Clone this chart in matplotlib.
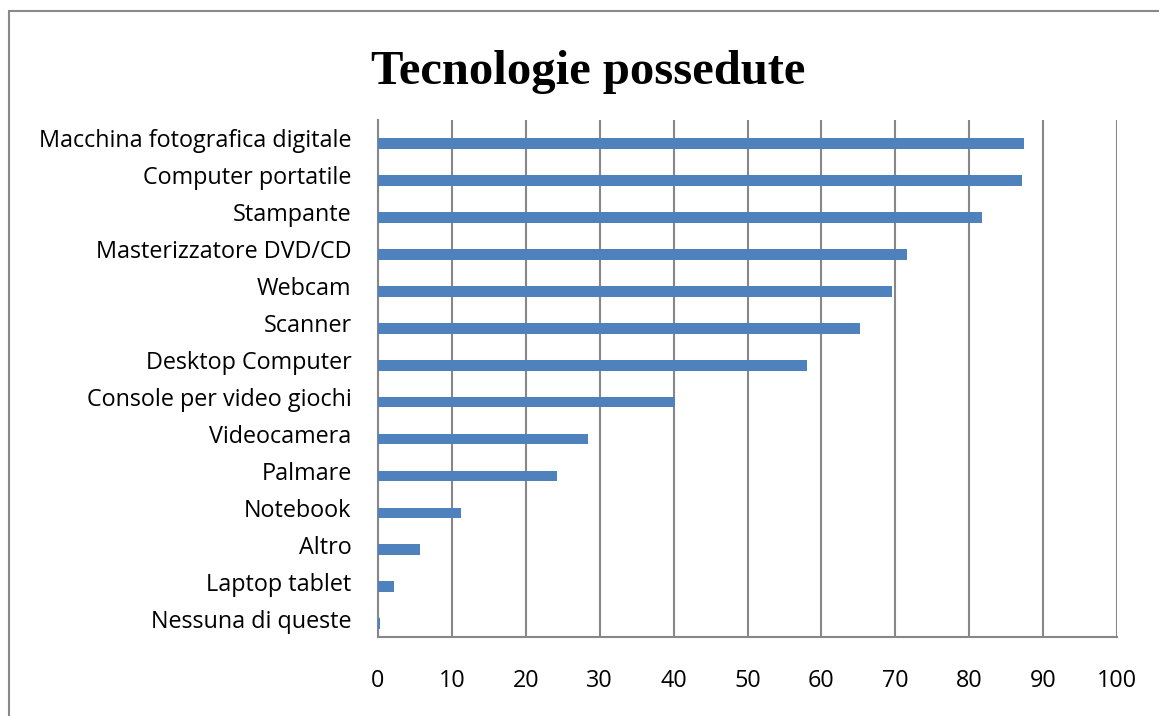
import matplotlib
matplotlib.use("Agg")
import matplotlib.pyplot as plt
from matplotlib.patches import Rectangle

# Dati
categorie = [
    "Macchina fotografica digitale", "Computer portatile", "Stampante",
    "Masterizzatore DVD/CD", "Webcam", "Scanner", "Desktop Computer",
    "Console per video giochi", "Videocamera", "Palmare", "Notebook",
    "Altro", "Laptop tablet", "Nessuna di queste",
]
valori = [87.4, 87.1, 81.7, 71.6, 69.6, 65.2, 58.1, 40.2, 28.4, 24.2, 11.2, 5.7, 2.2, 0.3]
tick_x = [0, 10, 20, 30, 40, 50, 60, 70, 80, 90, 100]

fig = plt.figure(figsize=(11.59, 7.16), dpi=100)
ax = fig.add_axes([378 / 1159, 1 - 637 / 716, 739 / 1159, 517 / 716])

# bordo esterno del grafico
fig.patches.append(Rectangle((9 / 1159, -0.05), 1.1, 1 - 11 / 716 + 0.05,
                             transform=fig.transFigure, fill=False,
                             edgecolor="#898989", linewidth=1.5))

pos = list(range(len(categorie)))[::-1]
# le barre in Excel stanno un po' sotto l'etichetta
ax.barh([p - 0.14 for p in pos], valori, height=0.29, color="#4F81BD", zorder=3)

ax.set_xlim(0, 100)
ax.set_ylim(-0.5, len(categorie) - 0.5)
ax.set_xticks(tick_x)
ax.set_yticks(pos)
ax.set_yticklabels(categorie)
ax.grid(axis="x", color="#878787", linewidth=1.5, zorder=0)
ax.tick_params(axis="both", length=0, labelsize=16.8)
ax.tick_params(axis="x", pad=23)
ax.tick_params(axis="y", pad=19)
for lab in ax.get_xticklabels() + ax.get_yticklabels():
    lab.set_fontfamily("Open Sans")

for lato in ["top", "right"]:
    ax.spines[lato].set_visible(False)
for lato in ["left", "bottom"]:
    ax.spines[lato].set_color("#878787")
    ax.spines[lato].set_linewidth(1.5)

fig.text(588 / 1159, 1 - 84 / 716, "Tecnologie possedute", ha="center", va="baseline",
         fontsize=35, fontweight="bold", family="Liberation Serif")

fig.savefig("out.png", dpi=100)
